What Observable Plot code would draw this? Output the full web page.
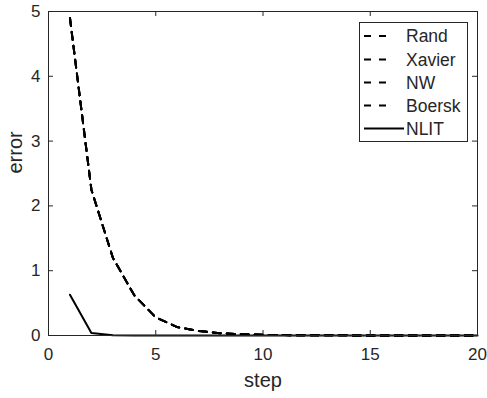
<!DOCTYPE html>
<html>
<head>
<meta charset="utf-8">
<script src="https://cdn.jsdelivr.net/npm/d3@7"></script>
<script src="https://cdn.jsdelivr.net/npm/@observablehq/plot@0.6"></script>
<style>
  html, body { margin: 0; padding: 0; background: #fff; }
</style>
</head>
<body>
<div id="chart"></div>
<script>
const steps  = [1, 2, 3, 4, 5, 6, 7, 8, 9, 10, 11, 12, 13, 14, 15, 16, 17, 18, 19, 20];
const rand   = [4.9, 2.25, 1.2, 0.62, 0.28, 0.13, 0.07, 0.035, 0.02, 0.01, 0.006, 0.004, 0.003, 0.002, 0.001, 0.001, 0.001, 0, 0, 0];
const xavier = [4.9, 2.25, 1.2, 0.62, 0.28, 0.13, 0.07, 0.035, 0.02, 0.01, 0.006, 0.004, 0.003, 0.002, 0.001, 0.001, 0.001, 0, 0, 0];
const nw     = [4.9, 2.25, 1.2, 0.62, 0.28, 0.13, 0.07, 0.035, 0.02, 0.01, 0.006, 0.004, 0.003, 0.002, 0.001, 0.001, 0.001, 0, 0, 0];
const boersk = [4.9, 2.25, 1.2, 0.62, 0.28, 0.13, 0.07, 0.035, 0.02, 0.01, 0.006, 0.004, 0.003, 0.002, 0.001, 0.001, 0.001, 0, 0, 0];
const nlit   = [0.63, 0.04, 0.005, 0, 0, 0, 0, 0, 0, 0, 0, 0, 0, 0, 0, 0, 0, 0, 0, 0];
const seriesNames = ["Rand", "Xavier", "NW", "Boersk", "NLIT"];
const xTicks = [0, 5, 10, 15, 20];
const yTicks = [0, 1, 2, 3, 4, 5];
const xLabel = "step";
const yLabel = "error";

const W = 487, H = 398;
const mL = 48, mR = 10, mT = 11, mB = 63;
const pW = W - mL - mR, pH = H - mT - mB;
const axisColor = "#262626";
const font = "'Liberation Sans', Arial, sans-serif";
const dash = "8,6";

const toRows = (vals) => steps.map((s, i) => ({step: s, error: vals[i]}));
const dashedSeries = [rand, xavier, nw, boersk];

const svg = Plot.plot({
  width: W, height: H,
  marginLeft: mL, marginRight: mR, marginTop: mT, marginBottom: mB,
  style: {fontFamily: font, fontSize: "17px", color: axisColor, background: "#fff"},
  x: {domain: [0, 20]},
  y: {domain: [0, 5]},
  marks: [
    ...dashedSeries.map(v => Plot.line(toRows(v), {x: "step", y: "error", stroke: "black", strokeWidth: 2, strokeDasharray: dash})),
    Plot.line(toRows(nlit), {x: "step", y: "error", stroke: "black", strokeWidth: 2}),
    Plot.frame({stroke: axisColor, strokeWidth: 1}),
    Plot.tickX(xTicks, {x: d => d, insetTop: pH - 5, stroke: axisColor}),
    Plot.tickX(xTicks, {x: d => d, insetBottom: pH - 5, stroke: axisColor}),
    Plot.tickY(yTicks, {y: d => d, insetRight: pW - 5, stroke: axisColor}),
    Plot.tickY(yTicks, {y: d => d, insetLeft: pW - 5, stroke: axisColor}),
    Plot.axisX({ticks: xTicks, tickSize: 0, tickPadding: 12, fontSize: 17, tickFormat: d => String(d), label: null}),
    Plot.axisY({ticks: yTicks, tickSize: 0, tickPadding: 8, fontSize: 17, tickFormat: d => String(d), label: null}),
    Plot.text([xLabel], {text: d => d, frameAnchor: "bottom", dy: 51, fontSize: 20, fill: axisColor}),
    Plot.text([yLabel], {text: d => d, frameAnchor: "left", dx: -33, rotate: -90, fontSize: 20, fill: axisColor})
  ]
});

// Legend box (top-right inside the axes)
const g = d3.select(svg).append("g")
  .attr("font-family", font).attr("font-size", 17.5).attr("text-anchor", "start");
const lx = 359, ly = 22, lw = 108, lh = 119;
g.append("rect").attr("x", lx + 0.5).attr("y", ly + 0.5).attr("width", lw).attr("height", lh)
  .attr("fill", "white").attr("stroke", axisColor).attr("stroke-width", 1);
const rowY = [36, 59.5, 82.5, 105.5, 128.5];
seriesNames.forEach((name, i) => {
  const y = rowY[i];
  const isSolid = i === 4;
  g.append("line").attr("x1", 364).attr("x2", isSolid ? 404 : 387).attr("y1", y).attr("y2", y)
    .attr("stroke", "black").attr("stroke-width", 2)
    .attr("stroke-dasharray", isSolid ? null : "7,8");
  g.append("text").attr("x", 406).attr("y", y).attr("dy", "0.35em").attr("fill", axisColor).text(name);
});

document.getElementById("chart").appendChild(svg);
</script>
</body>
</html>
